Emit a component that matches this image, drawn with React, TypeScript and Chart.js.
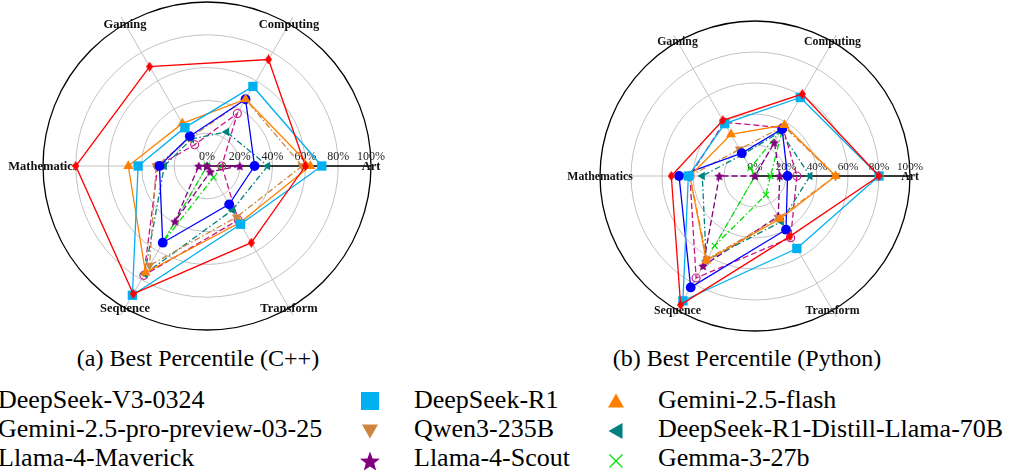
import React, { useEffect, useRef } from 'react';
import { Chart, registerables } from 'chart.js';

Chart.register(...registerables);

// ---------------- data ----------------
const CATEGORIES = ['Art', 'Computing', 'Gaming', 'Mathematics', 'Sequence', 'Transform'];
// Chart.js runs clockwise from the start angle; the reference runs counter-clockwise from "Art"
const DRAW_ORDER = [0, 5, 4, 3, 2, 1];
const TICK_VALUES = [0, 0.2, 0.4, 0.6, 0.8, 1.0];
const TICK_LABELS = ['0%', '20%', '40%', '60%', '80%', '100%'];

const MODELS = [
  'DeepSeek-V3-0324',
  'DeepSeek-R1',
  'Gemini-2.5-flash',
  'Gemini-2.5-pro-preview-03-25',
  'Qwen3-235B',
  'DeepSeek-R1-Distill-Llama-70B',
  'Llama-4-Maverick',
  'Llama-4-Scout',
  'Gemma-3-27b',
];

// (a) C++ — order of CATEGORIES
const CPP_DEEPSEEK_V3 = [0.60, 0.75, 0.70, 0.80, 0.90, 0.54];
const CPP_DEEPSEEK_R1 = [0.70, 0.56, 0.27, 0.42, 0.91, 0.41];
const CPP_GEMINI_FLASH = [0.63, 0.47, 0.30, 0.48, 0.75, 0.40];
const CPP_GEMINI_PRO = [0.29, 0.47, 0.21, 0.29, 0.54, 0.27];
const CPP_QWEN3 = [0.58, 0.47, 0.20, 0.31, 0.70, 0.36];
const CPP_DISTILL = [0.37, 0.24, 0.19, 0.26, 0.76, 0.31];
const CPP_MAVERICK = [0.09, 0.37, 0.15, 0.30, 0.77, 0.38];
const CPP_SCOUT = [0.20, 0.00, 0.00, 0.05, 0.39, 0.04];
const CPP_GEMMA = [0.09, 0.00, 0.00, 0.00, 0.54, 0.08];

// (b) Python — order of CATEGORIES
const PY_DEEPSEEK_V3 = [0.80, 0.61, 0.415, 0.54, 0.96, 0.45];
const PY_DEEPSEEK_R1 = [0.80, 0.585, 0.39, 0.43, 0.93, 0.54];
const PY_GEMINI_FLASH = [0.52, 0.38, 0.31, 0.42, 0.63, 0.32];
const PY_GEMINI_PRO = [0.21, 0.35, 0.17, 0.49, 0.83, 0.40];
const PY_QWEN3 = [0.52, 0.37, 0.20, 0.42, 0.62, 0.31];
const PY_DISTILL = [0.355, 0.33, 0.16, 0.34, 0.63, 0.34];
const PY_MAVERICK = [0.27, 0.36, 0.40, 0.42, 0.76, 0.46];
const PY_SCOUT = [0.16, 0.25, 0.00, 0.23, 0.67, 0.30];
const PY_GEMMA = [0.10, 0.36, 0.06, 0.00, 0.52, 0.14];

const CPP_SERIES = [CPP_DEEPSEEK_V3, CPP_DEEPSEEK_R1, CPP_GEMINI_FLASH, CPP_GEMINI_PRO, CPP_QWEN3, CPP_DISTILL, CPP_MAVERICK, CPP_SCOUT, CPP_GEMMA];
const PY_SERIES = [PY_DEEPSEEK_V3, PY_DEEPSEEK_R1, PY_GEMINI_FLASH, PY_GEMINI_PRO, PY_QWEN3, PY_DISTILL, PY_MAVERICK, PY_SCOUT, PY_GEMMA];

// ---------------- styles ----------------
type Marker = 'thinDiamond' | 'square' | 'triUp' | 'circle' | 'triDown' | 'triLeft' | 'hollowCircle' | 'star' | 'x';
const DASH_DOT = [6, 2.5, 1.5, 2.5];
const DASHED = [6, 3];
const STYLES: { color: string; marker: Marker; dash: number[] }[] = [
  { color: '#ff0000', marker: 'thinDiamond', dash: [] },
  { color: '#00b0f0', marker: 'square', dash: [] },
  { color: '#ff8000', marker: 'triUp', dash: [] },
  { color: '#0000ff', marker: 'circle', dash: [] },
  { color: '#cd853f', marker: 'triDown', dash: DASH_DOT },
  { color: '#008080', marker: 'triLeft', dash: DASH_DOT },
  { color: '#c71585', marker: 'hollowCircle', dash: DASHED },
  { color: '#800080', marker: 'star', dash: DASHED },
  { color: '#00e000', marker: 'x', dash: DASH_DOT },
];

function starPath(ctx: CanvasRenderingContext2D, cx: number, cy: number, R: number, r: number) {
  ctx.beginPath();
  for (let k = 0; k < 10; k++) {
    const a = -Math.PI / 2 + (k * Math.PI) / 5;
    const rr = k % 2 === 0 ? R : r;
    const x = cx + Math.cos(a) * rr;
    const y = cy + Math.sin(a) * rr;
    if (k === 0) ctx.moveTo(x, y);
    else ctx.lineTo(x, y);
  }
  ctx.closePath();
}

function makeStar(color: string, R: number): HTMLCanvasElement {
  const size = Math.ceil(R * 2 + 2);
  const c = document.createElement('canvas');
  c.width = size;
  c.height = size;
  const ctx = c.getContext('2d')!;
  ctx.fillStyle = color;
  starPath(ctx, size / 2, size / 2 + 0.5, R, R * 0.5);
  ctx.fill();
  return c;
}

function makeThinDiamond(color: string, w: number, h: number): HTMLCanvasElement {
  const c = document.createElement('canvas');
  c.width = w;
  c.height = h;
  const ctx = c.getContext('2d')!;
  ctx.fillStyle = color;
  ctx.beginPath();
  ctx.moveTo(w / 2, 0);
  ctx.lineTo(w, h / 2);
  ctx.lineTo(w / 2, h);
  ctx.lineTo(0, h / 2);
  ctx.closePath();
  ctx.fill();
  return c;
}

function pointOpts(style: { color: string; marker: Marker }) {
  const c = style.color;
  switch (style.marker) {
    case 'thinDiamond':
      return { pointStyle: makeThinDiamond(c, 7, 10), pointRadius: 5, pointRotation: 0, pointBackgroundColor: c, pointBorderColor: c, pointBorderWidth: 0 };
    case 'square':
      return { pointStyle: 'rect', pointRadius: 6.6, pointRotation: 0, pointBackgroundColor: c, pointBorderColor: c, pointBorderWidth: 0 };
    case 'triUp':
      return { pointStyle: 'triangle', pointRadius: 5.8, pointRotation: 0, pointBackgroundColor: c, pointBorderColor: c, pointBorderWidth: 0 };
    case 'circle':
      return { pointStyle: 'circle', pointRadius: 4.9, pointRotation: 0, pointBackgroundColor: c, pointBorderColor: c, pointBorderWidth: 0 };
    case 'triDown':
      return { pointStyle: 'triangle', pointRadius: 5.4, pointRotation: 180, pointBackgroundColor: c, pointBorderColor: c, pointBorderWidth: 0 };
    case 'triLeft':
      return { pointStyle: 'triangle', pointRadius: 5, pointRotation: -90, pointBackgroundColor: c, pointBorderColor: c, pointBorderWidth: 0 };
    case 'hollowCircle':
      return { pointStyle: 'circle', pointRadius: 4, pointRotation: 0, pointBackgroundColor: 'rgba(0,0,0,0)', pointBorderColor: c, pointBorderWidth: 1.1 };
    case 'star':
      return { pointStyle: makeStar(c, 5), pointRadius: 5, pointRotation: 0, pointBackgroundColor: c, pointBorderColor: c, pointBorderWidth: 0 };
    case 'x':
      return { pointStyle: 'crossRot', pointRadius: 4.2, pointRotation: 0, pointBackgroundColor: c, pointBorderColor: c, pointBorderWidth: 1.2 };
  }
}

// ---------------- decoration plugin (grid, ticks, labels) ----------------
function decorPlugin(tickFont: number, labelFont: number) {
  return {
    id: 'radarDecor',
    beforeDatasetsDraw(chart: any) {
      const s = chart.scales.r;
      const ctx: CanvasRenderingContext2D = chart.ctx;
      const R = s.drawingArea;
      const cx = s.xCenter;
      const cy = s.yCenter;
      const labels: string[] = chart.data.labels;
      ctx.save();
      ctx.setLineDash([]);
      // grid circles
      ctx.strokeStyle = '#c2c2c2';
      ctx.lineWidth = 1;
      for (const t of TICK_VALUES) {
        if (t <= 0 || t >= 1) continue;
        const r = s.getDistanceFromCenterForValue(t);
        ctx.beginPath();
        ctx.arc(cx, cy, r, 0, Math.PI * 2);
        ctx.stroke();
      }
      // spokes
      for (let i = 0; i < labels.length; i++) {
        const p = s.getPointPosition(i, R * 1.05);
        ctx.beginPath();
        ctx.moveTo(cx, cy);
        ctx.lineTo(p.x, p.y);
        ctx.stroke();
      }
      // outer circle at 100%
      ctx.strokeStyle = '#000';
      ctx.lineWidth = 1.3;
      ctx.beginPath();
      ctx.arc(cx, cy, s.getDistanceFromCenterForValue(1), 0, Math.PI * 2);
      ctx.stroke();
      // Art axis (black)
      const pa = s.getPointPositionForValue(0, 1);
      ctx.lineWidth = 1.5;
      ctx.beginPath();
      ctx.moveTo(cx, cy);
      ctx.lineTo(pa.x, pa.y);
      ctx.stroke();
      // tick labels
      ctx.font = `${tickFont}px "Liberation Serif", "Times New Roman", serif`;
      ctx.fillStyle = '#222';
      ctx.textAlign = 'center';
      ctx.textBaseline = 'alphabetic';
      TICK_VALUES.forEach((t, k) => {
        const p = s.getPointPositionForValue(0, t);
        ctx.fillText(TICK_LABELS[k], p.x, p.y - 6.5);
      });
      // category labels
      ctx.font = `bold ${labelFont}px "Liberation Serif", "Times New Roman", serif`;
      ctx.fillStyle = '#111';
      ctx.textBaseline = 'middle';
      labels.forEach((lab, i) => {
        const p = s.getPointPosition(i, s.getDistanceFromCenterForValue(1));
        ctx.fillText(lab, p.x, p.y + 0.5);
      });
      ctx.restore();
    },
  };
}

function RadarChart(props: {
  series: number[][];
  width: number;
  height: number;
  padding: { left: number; right: number; top: number; bottom: number };
  tickFont: number;
  labelFont: number;
}) {
  const ref = useRef<HTMLCanvasElement | null>(null);
  useEffect(() => {
    if (!ref.current) return;
    const labels = DRAW_ORDER.map((k) => CATEGORIES[k]);
    const datasets = props.series.map((vals, i) => {
      const st = STYLES[i];
      return {
        label: MODELS[i],
        data: DRAW_ORDER.map((k) => vals[k]),
        borderColor: st.color,
        backgroundColor: 'rgba(0,0,0,0)',
        borderWidth: 1.3,
        borderDash: st.dash,
        fill: false,
        tension: 0,
        ...pointOpts(st),
        pointHoverRadius: 0,
      };
    });
    const chart = new Chart(ref.current, {
      type: 'radar',
      data: { labels, datasets: datasets as any },
      options: {
        responsive: false,
        animation: false,
        events: [],
        layout: { padding: props.padding },
        plugins: { legend: { display: false }, tooltip: { enabled: false }, title: { display: false } },
        scales: {
          r: {
            min: 0,
            max: 1,
            startAngle: 90,
            grid: { display: false },
            angleLines: { display: false },
            ticks: { display: false },
            pointLabels: { display: false },
          },
        },
      } as any,
      plugins: [decorPlugin(props.tickFont, props.labelFont)],
    });
    return () => chart.destroy();
  }, []);
  return <canvas ref={ref} width={props.width} height={props.height} style={{ width: props.width, height: props.height, display: 'block' }} />;
}

// ---------------- legend ----------------
function LegendMarker({ marker, color }: { marker: Marker; color: string }) {
  let shape: React.ReactNode = null;
  switch (marker) {
    case 'thinDiamond':
      shape = <polygon points="0,-10 6.5,0 0,10 -6.5,0" fill={color} />;
      break;
    case 'square':
      shape = <rect x={-9} y={-9} width={18} height={18} fill={color} />;
      break;
    case 'triUp':
      shape = <polygon points="0,-7.5 8,6.5 -8,6.5" fill={color} />;
      break;
    case 'circle':
      shape = <circle cx={0} cy={0} r={8.5} fill={color} />;
      break;
    case 'triDown':
      shape = <polygon points="0,7.5 8,-6.5 -8,-6.5" fill={color} />;
      break;
    case 'triLeft':
      shape = <polygon points="-7.5,0 6.5,-8 6.5,8" fill={color} />;
      break;
    case 'hollowCircle':
      shape = <circle cx={0} cy={0} r={7} fill="none" stroke={color} strokeWidth={1.5} />;
      break;
    case 'star': {
      const pts: string[] = [];
      for (let k = 0; k < 10; k++) {
        const a = -Math.PI / 2 + (k * Math.PI) / 5;
        const rr = k % 2 === 0 ? 10.5 : 4.4;
        pts.push(`${(Math.cos(a) * rr).toFixed(2)},${(Math.sin(a) * rr + 1).toFixed(2)}`);
      }
      shape = <polygon points={pts.join(' ')} fill={color} />;
      break;
    }
    case 'x':
      shape = (
        <g stroke={color} strokeWidth={1.3}>
          <line x1={-6.5} y1={-6.5} x2={6.5} y2={6.5} />
          <line x1={-6.5} y1={6.5} x2={6.5} y2={-6.5} />
        </g>
      );
      break;
  }
  return (
    <svg width={30} height={30} viewBox="-15 -15 30 30" style={{ display: 'block' }}>
      {shape}
    </svg>
  );
}

const LEGEND_COLUMNS = [
  [0, 3, 6],
  [1, 4, 7],
  [2, 5, 8],
];
const LEGEND_TEXT_X = [-2, 414, 658];
const LEGEND_MARKER_X = [-46, 370, 616];
const LEGEND_BASELINES = [409, 437.8, 466.6];
const LEGEND_MARKER_Y = [400.5, 430.5, 460.5];

export default function App() {
  const serif = '"Liberation Serif", "Times New Roman", serif';
  return (
    <div style={{ position: 'absolute', left: 0, top: 0, width: 1014, height: 475, overflow: 'hidden', background: '#fff', fontFamily: serif, color: '#000' }}>
      <div style={{ position: 'absolute', left: 0, top: 0 }}>
        <RadarChart series={CPP_SERIES} width={420} height={340} padding={{ left: 20, right: 26, top: 2, bottom: 10 }} tickFont={12} labelFont={12.5} />
      </div>
      <div style={{ position: 'absolute', left: 520, top: 0 }}>
        <RadarChart series={PY_SERIES} width={494} height={345} padding={{ left: 40, right: 64, top: 21, bottom: 14 }} tickFont={11.2} labelFont={11.8} />
      </div>

      <div style={{ position: 'absolute', left: 198 - 200, top: 346, width: 400, textAlign: 'center', fontSize: 24, lineHeight: '24px', whiteSpace: 'nowrap' }}>
        (a) Best Percentile (C++)
      </div>
      <div style={{ position: 'absolute', left: 747 - 200, top: 346, width: 400, textAlign: 'center', fontSize: 24, lineHeight: '24px', whiteSpace: 'nowrap' }}>
        (b) Best Percentile (Python)
      </div>

      {LEGEND_COLUMNS.map((col, ci) =>
        col.map((mi, ri) => (
          <React.Fragment key={`${ci}-${ri}`}>
            <div style={{ position: 'absolute', left: LEGEND_MARKER_X[ci] - 15, top: LEGEND_MARKER_Y[ri] - 15 }}>
              <LegendMarker marker={STYLES[mi].marker} color={STYLES[mi].color} />
            </div>
            <div style={{ position: 'absolute', left: LEGEND_TEXT_X[ci], top: LEGEND_BASELINES[ri] - 21.8, fontSize: 26, lineHeight: '26px', whiteSpace: 'nowrap' }}>
              {MODELS[mi]}
            </div>
          </React.Fragment>
        ))
      )}
    </div>
  );
}
